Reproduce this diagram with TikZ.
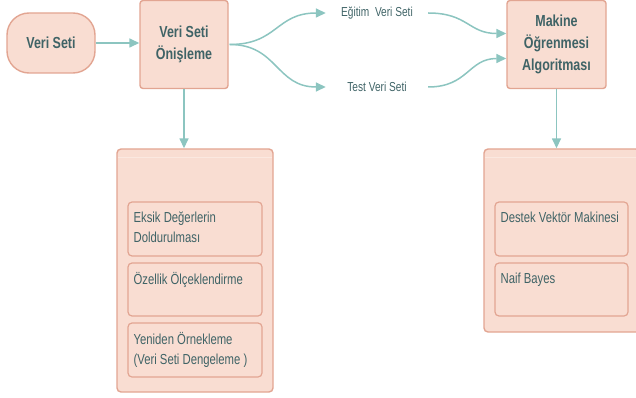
\documentclass[tikz,border=0pt]{standalone}
\usepackage{fontspec}
\setmainfont{Liberation Sans}[FakeStretch=0.78]
\usetikzlibrary{arrows.meta}
\definecolor{fillc}{HTML}{F9DDD2}
\definecolor{borderc}{HTML}{E2A592}
\definecolor{arrowc}{HTML}{8CC5C0}
\definecolor{textc}{HTML}{3F6366}
\definecolor{hdrc}{HTML}{FBE8E0}
\tikzset{
  base/.style={draw=borderc, fill=fillc, line width=1.4pt, text=textc},
  pill/.style={base, rounded corners=22pt, minimum width=88pt, minimum height=60pt, font=\fontsize{16}{22}\selectfont\bfseries},
  procbox/.style={base, rounded corners=3pt, minimum width=88pt, minimum height=88pt, align=center, font=\fontsize{16}{22}\selectfont\bfseries},
  contbox/.style={base, rounded corners=4pt},
  itembox/.style={base, rounded corners=4pt, line width=1.2pt},
  itemtext/.style={anchor=north west, inner sep=0pt, align=left, text=textc, font=\fontsize{14.5}{20}\selectfont},
  lbl/.style={minimum width=102pt, inner sep=0pt, text=textc, font=\fontsize{13}{15}\selectfont},
  conn/.style={draw=arrowc, line width=1.5pt, -{Triangle[length=10pt,width=9pt]}},
}
\begin{document}
\begin{tikzpicture}[x=1pt,y=-1pt]
\useasboundingbox (0,0) rectangle (636,398);
% top row
\node[pill] (src) at (51,43) {Veri Seti};
\node[procbox] (pre) at (184,44.5) {Veri Seti\\Önişleme};
\node[procbox, minimum width=99pt] (ml) at (556.5,44.5) {Makine\\Öğrenmesi\\Algoritması};
\node[lbl] (train) at (377,13) {Eğitim\ \ Veri Seti};
\node[lbl] (test) at (377,87) {Test Veri Seti};
% containers
\node[contbox, minimum width=156pt, minimum height=243pt] (lc) at (195,270.5) {};
\draw[hdrc, line width=0.8pt] ([xshift=2pt,yshift=-9pt]lc.north west) -- ([xshift=-2pt,yshift=-9pt]lc.north east);
\node[itembox, minimum width=134pt, minimum height=54pt] (b1) at (195,229) {};
\node[itembox, minimum width=134pt, minimum height=53pt] (b2) at (195,289.5) {};
\node[itembox, minimum width=134pt, minimum height=54pt] (b3) at (195,350) {};
\node[itemtext] at ([xshift=6pt,yshift=-10pt]b1.north west) {Eksik Değerlerin\\Doldurulması};
\node[itemtext] at ([xshift=6pt,yshift=-10pt]b2.north west) {Özellik Ölçeklendirme};
\node[itemtext] at ([xshift=6pt,yshift=-10pt]b3.north west) {Yeniden Örnekleme\\(Veri Seti Dengeleme )};
\node[contbox, minimum width=156pt, minimum height=183pt] (rc) at (562,240.5) {};
\draw[hdrc, line width=0.8pt] ([xshift=2pt,yshift=-9pt]rc.north west) -- ([xshift=-2pt,yshift=-9pt]rc.north east);
\node[itembox, minimum width=133pt, minimum height=54pt] (r1) at (561.5,229) {};
\node[itembox, minimum width=133pt, minimum height=53pt] (r2) at (561.5,289.5) {};
\node[itemtext] at ([xshift=6pt,yshift=-10pt]r1.north west) {Destek Vektör Makinesi};
\node[itemtext] at ([xshift=6pt,yshift=-10pt]r2.north west) {Naif Bayes};
% connectors
\draw[conn] (src.east) -- (pre.west |- src.east);
\draw[conn] ([xshift=1pt]pre.east) .. controls +(48,0) and +(-50,0) .. (train.west);
\draw[conn] ([xshift=1pt]pre.east) .. controls +(48,0) and +(-50,0) .. (test.west);
\draw[conn] (train.east) .. controls +(40,0) and +(-38,0) .. ([yshift=11pt]ml.west);
\draw[conn] (test.east) .. controls +(40,0) and +(-38,0) .. ([yshift=-14pt]ml.west);
\draw[conn] (pre.south) -- (pre.south |- lc.north);
\draw[conn] (ml.south) -- (ml.south |- rc.north);
\end{tikzpicture}
\end{document}
